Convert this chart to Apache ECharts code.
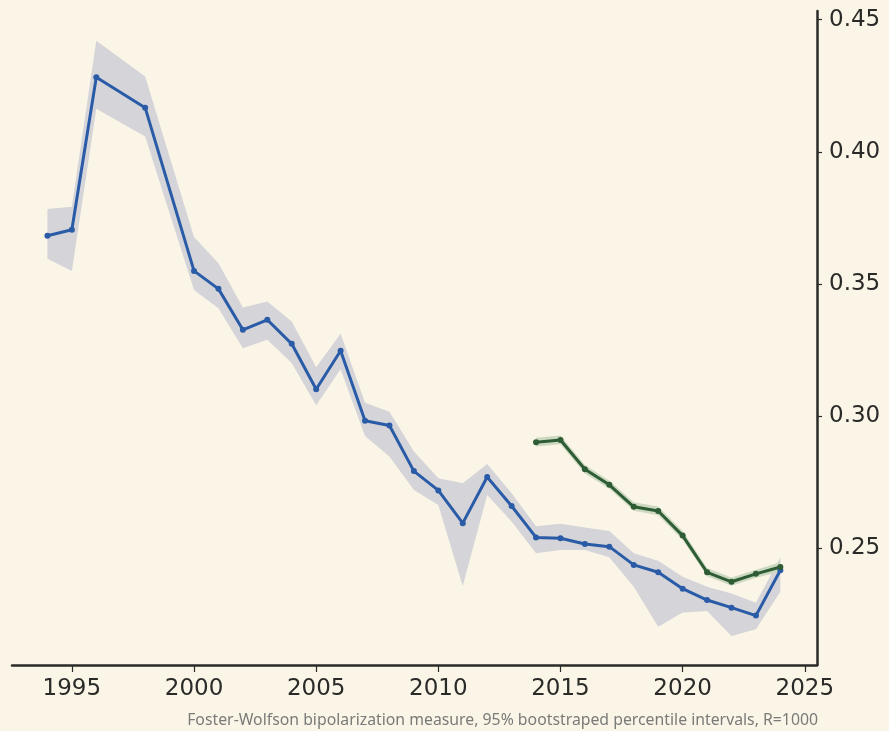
<!DOCTYPE html>
<html>
<head>
<meta charset="utf-8">
<script src="https://cdn.jsdelivr.net/npm/echarts@6/dist/echarts.min.js"></script>
<style>
  html, body { margin: 0; padding: 0; background: #faf5e7; }
  #chart { width: 889px; height: 731px; }
</style>
</head>
<body>
<div id="chart"></div>
<script>
// blue series: estimate + 95% interval
const blueYears = [1994, 1995, 1996, 1998, 2000, 2001, 2002, 2003, 2004, 2005, 2006, 2007, 2008, 2009, 2010, 2011, 2012, 2013, 2014, 2015, 2016, 2017, 2018, 2019, 2020, 2021, 2022, 2023, 2024];
const blueValues = [0.3682, 0.3705, 0.4282, 0.4167, 0.3549, 0.3481, 0.3326, 0.3364, 0.3273, 0.3101, 0.3247, 0.2982, 0.2964, 0.2791, 0.2718, 0.2594, 0.2769, 0.2659, 0.2540, 0.2537, 0.2515, 0.2505, 0.2436, 0.2408, 0.2346, 0.2303, 0.2274, 0.2244, 0.2416];
const blueLower = [0.3595, 0.3549, 0.4163, 0.4058, 0.3477, 0.3408, 0.3256, 0.3288, 0.3200, 0.3040, 0.3177, 0.2924, 0.2846, 0.2720, 0.2663, 0.2356, 0.2701, 0.2600, 0.2480, 0.2492, 0.2492, 0.2465, 0.2353, 0.2202, 0.2256, 0.2261, 0.2167, 0.2192, 0.2334];
const blueUpper = [0.3783, 0.3792, 0.4420, 0.4285, 0.3677, 0.3578, 0.3410, 0.3433, 0.3357, 0.3184, 0.3311, 0.3050, 0.3016, 0.2865, 0.2764, 0.2745, 0.2818, 0.2707, 0.2582, 0.2592, 0.2578, 0.2564, 0.2480, 0.2452, 0.2391, 0.2353, 0.2328, 0.2293, 0.2465];

// green series: estimate + 95% interval
const greenYears = [2014, 2015, 2016, 2017, 2018, 2019, 2020, 2021, 2022, 2023, 2024];
const greenValues = [0.2900, 0.2909, 0.2798, 0.2739, 0.2656, 0.2640, 0.2547, 0.2408, 0.2372, 0.2402, 0.2428];
const greenLower = [0.2884, 0.2893, 0.2782, 0.2724, 0.2641, 0.2624, 0.2531, 0.2393, 0.2357, 0.2387, 0.2410];
const greenUpper = [0.2917, 0.2926, 0.2814, 0.2755, 0.2673, 0.2657, 0.2564, 0.2424, 0.2388, 0.2418, 0.2446];

const xTicks = [1995, 2000, 2005, 2010, 2015, 2020, 2025];
const yTicks = [0.25, 0.30, 0.35, 0.40, 0.45];
const caption = 'Foster-Wolfson bipolarization measure, 95% bootstraped percentile intervals, R=1000';

const chart = echarts.init(document.getElementById('chart'));

function bandSeries(years, lower, upper, color) {
  const data = years.map((y, i) => [y, lower[i], upper[i]]);
  return {
    type: 'custom',
    silent: true,
    z: 1,
    data: data,
    encode: { x: 0, y: [1, 2] },
    renderItem: (params, api) => {
      if (params.dataIndex !== 0) return;
      const top = data.map(d => api.coord([d[0], d[2]]));
      const bottom = data.map(d => api.coord([d[0], d[1]])).reverse();
      return {
        type: 'polygon',
        shape: { points: top.concat(bottom) },
        style: { fill: color }
      };
    }
  };
}

function lineSeries(years, values, color) {
  return {
    type: 'line',
    z: 3,
    data: years.map((y, i) => [y, values[i]]),
    symbol: 'circle',
    symbolSize: 6,
    lineStyle: { color: color, width: 3 },
    itemStyle: { color: color },
    animation: false
  };
}

const options = {
  backgroundColor: '#faf5e7',
  animation: false,
  grid: { left: 12, right: 72, top: 11, bottom: 66 },
  xAxis: {
    type: 'value',
    min: 1992.55,
    max: 2025.5,
    splitLine: { show: false },
    axisLine: { lineStyle: { color: '#2a2a28', width: 2.5 } },
    axisTick: { customValues: xTicks, length: 7, lineStyle: { color: '#2a2a28', width: 1.2 } },
    axisLabel: {
      customValues: xTicks,
      margin: 13,
      fontSize: 23,
      color: '#2a2a28',
      fontFamily: 'DejaVu Sans, sans-serif',
      formatter: v => String(v)
    }
  },
  yAxis: {
    type: 'value',
    position: 'right',
    min: 0.2057,
    max: 0.4533,
    splitLine: { show: false },
    axisLine: { show: true, lineStyle: { color: '#2a2a28', width: 2.5 } },
    axisTick: { show: true, customValues: yTicks, length: 5, lineStyle: { color: '#2a2a28', width: 1.2 } },
    axisLabel: {
      customValues: yTicks,
      margin: 12,
      fontSize: 23,
      color: '#2a2a28',
      fontFamily: 'DejaVu Sans, sans-serif',
      formatter: v => v.toFixed(2)
    }
  },
  graphic: [{
    type: 'text',
    right: 71,
    top: 712,
    style: {
      text: caption,
      fill: '#7a7a78',
      fontSize: 15.8,
      fontFamily: 'Noto Sans, sans-serif'
    }
  }],
  series: [
    bandSeries(blueYears, blueLower, blueUpper, '#d4d4d9'),
    bandSeries(greenYears, greenLower, greenUpper, '#cdd8c0'),
    lineSeries(blueYears, blueValues, '#2a5ba7'),
    lineSeries(greenYears, greenValues, '#2e5c35')
  ]
};

chart.setOption(options);
</script>
</body>
</html>
